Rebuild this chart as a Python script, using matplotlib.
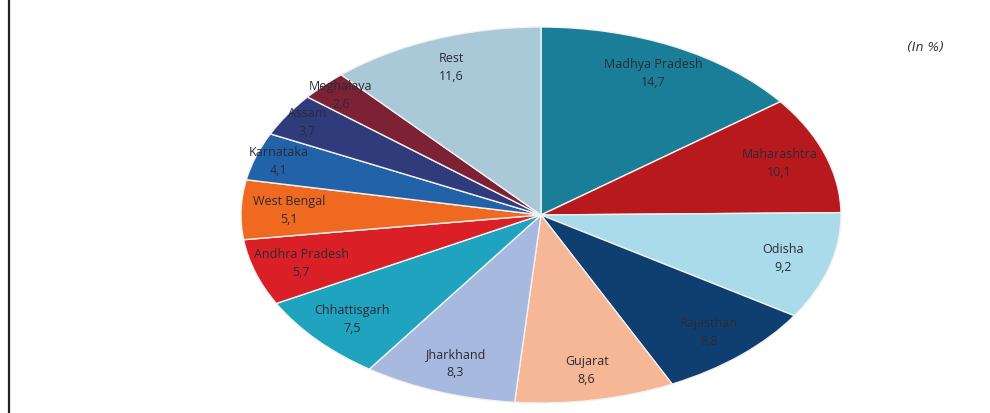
import numpy as np
import matplotlib.pyplot as plt
from matplotlib.lines import Line2D

# 주별 비중 (단위: %)
states = ["Madhya Pradesh", "Maharashtra", "Odisha", "Rajasthan", "Gujarat",
          "Jharkhand", "Chhattisgarh", "Andhra Pradesh", "West Bengal",
          "Karnataka", "Assam", "Meghalaya", "Rest"]
shares = [14.7, 10.1, 9.2, 8.8, 8.6, 8.3, 7.5, 5.7, 5.1, 4.1, 3.7, 2.6, 11.6]
colors = ["#1a7e98", "#b8191d", "#a9dbea", "#0f3e70", "#f5b795", "#a7b9de",
          "#1fa3bf", "#da1f27", "#ef6a20", "#2262a9", "#303b7b", "#7d2134",
          "#a9c9d9"]

fig = plt.figure(figsize=(9.9, 4.13), dpi=100)
fig.patch.set_facecolor("white")

# 타원 모양 파이: 축 비율을 고정하지 않고 가로로 늘림
ax = fig.add_axes([241 / 990, 10 / 413, 600 / 990, 376 / 413])
wedges, _ = ax.pie(shares, colors=colors, startangle=90, counterclock=False,
                   wedgeprops=dict(edgecolor="#f2f2f2", linewidth=1.0))
ax.set_aspect("auto")
ax.set_xlim(-1, 1)
ax.set_ylim(-1, 1)
ax.axis("off")

# 각 조각 안쪽에 이름과 값 표시 (소수점은 쉼표)
for w, name, v in zip(wedges, states, shares):
    ang = np.deg2rad((w.theta1 + w.theta2) / 2)
    r = 0.84 if v > 4.5 else 0.92
    ax.text(r * np.cos(ang), r * np.sin(ang),
            name + "\n" + ("%.1f" % v).replace(".", ","),
            ha="center", va="center", fontsize=9, color="#2b2b35",
            linespacing=1.5, family="Open Sans")

fig.text(0.935, 0.885, "(In %)", style="italic", fontsize=9,
         color="#333333", ha="center", va="center")

# 왼쪽 테두리 선
fig.add_artist(Line2D([9 / 990, 9 / 990], [0, 1], color="#222222", linewidth=1.6))

plt.savefig("out.png", dpi=100)
